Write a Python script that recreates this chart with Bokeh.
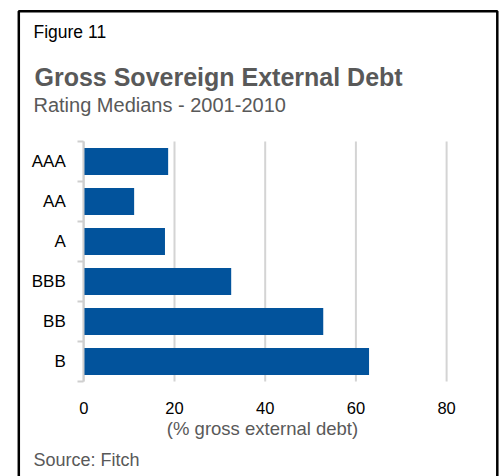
from bokeh.plotting import figure
from bokeh.models import Label, BoxAnnotation, Range1d, FixedTicker
from bokeh.embed import file_html
from bokeh.resources import INLINE

categories = ["AAA", "AA", "A", "BBB", "BB", "B"]
values = [18.6, 11.1, 17.9, 32.5, 52.8, 62.9]
x_ticks = [0, 20, 40, 60, 80]

FONT = "Liberation Sans"
n = len(categories)
centers = [i + 0.5 for i in range(n)]
bounds = list(range(n + 1))

W, H = 502, 476
# plot-area placement in page pixels
X0, PX_PER_UNIT = 83.3, 4.535      # x=0 pixel, pixels per % point
Y_TOP, BAND = 141.0, 40.0          # top of first band, band height

x_range = Range1d(-X0 / PX_PER_UNIT, (W - X0) / PX_PER_UNIT)
y_range = Range1d((H - Y_TOP) / BAND, -Y_TOP / BAND)

p = figure(width=W, height=H, output_backend="svg", toolbar_location=None,
           x_range=x_range, y_range=y_range,
           min_border=0, min_border_left=0, min_border_right=0,
           min_border_top=0, min_border_bottom=0)
p.outline_line_color = None
p.background_fill_color = "white"
p.border_fill_color = "white"
p.xgrid.grid_line_color = None
p.ygrid.grid_line_color = None

# vertical grid lines over the category span
p.segment(x0=x_ticks, x1=x_ticks, y0=[0] * len(x_ticks), y1=[n] * len(x_ticks),
          line_color="#d4d4d4", line_width=2)

p.hbar(y=centers, right=values, left=0, height=0.67, color="#02539C", line_color=None)

# x axis
xa = p.xaxis[0]
xa.fixed_location = n
xa.ticker = FixedTicker(ticks=x_ticks)
xa.axis_line_color = None
xa.major_tick_line_color = None
xa.minor_tick_line_color = None
xa.major_label_text_font = FONT
xa.major_label_text_font_size = "16.5px"
xa.major_label_text_color = "black"
xa.major_label_standoff = 14

# y axis
ya = p.yaxis[0]
ya.fixed_location = 0
ya.bounds = (0, n)
ya.ticker = FixedTicker(ticks=centers, minor_ticks=bounds)
ya.major_label_overrides = {c: cat for c, cat in zip(centers, categories)}
ya.axis_line_color = "#cfcfcf"
ya.axis_line_width = 2
ya.major_tick_line_color = None
ya.major_tick_out = 0
ya.minor_tick_line_color = "#cfcfcf"
ya.minor_tick_line_width = 2
ya.minor_tick_out = 6
ya.minor_tick_in = 0
ya.major_label_text_font = FONT
ya.major_label_text_font_size = "17px"
ya.major_label_text_color = "black"
ya.major_label_standoff = 12

def lab(text, x, y, size, color, bold=False, align="left"):
    # x, y in page pixels (y from top, text middle) -> frame-relative screen units
    p.add_layout(Label(x=x, y=H - y, x_units="screen", y_units="screen", text=text,
                       text_font=FONT, text_font_size=size, text_color=color,
                       text_font_style="bold" if bold else "normal",
                       text_align=align, text_baseline="middle"))

lab("Figure 11", 33, 31, "17.5px", "black")
lab("Gross Sovereign External Debt", 34, 76.5, "25px", "#595959", bold=True)
lab("Rating Medians - 2001-2010", 33, 104.5, "20px", "#595959")
lab("(% gross external debt)", 262, 428, "18.5px", "#595959", align="center")
lab("Source: Fitch", 33, 459, "18px", "#595959")

p.add_layout(BoxAnnotation(left=18.3, right=496.8, top=H - 10.7, bottom=-30,
                           left_units="screen", right_units="screen",
                           top_units="screen", bottom_units="screen",
                           fill_color=None, fill_alpha=0, line_color="black",
                           line_alpha=1.0, line_width=2.5))

open("out.html", "w").write(file_html(p, INLINE))
